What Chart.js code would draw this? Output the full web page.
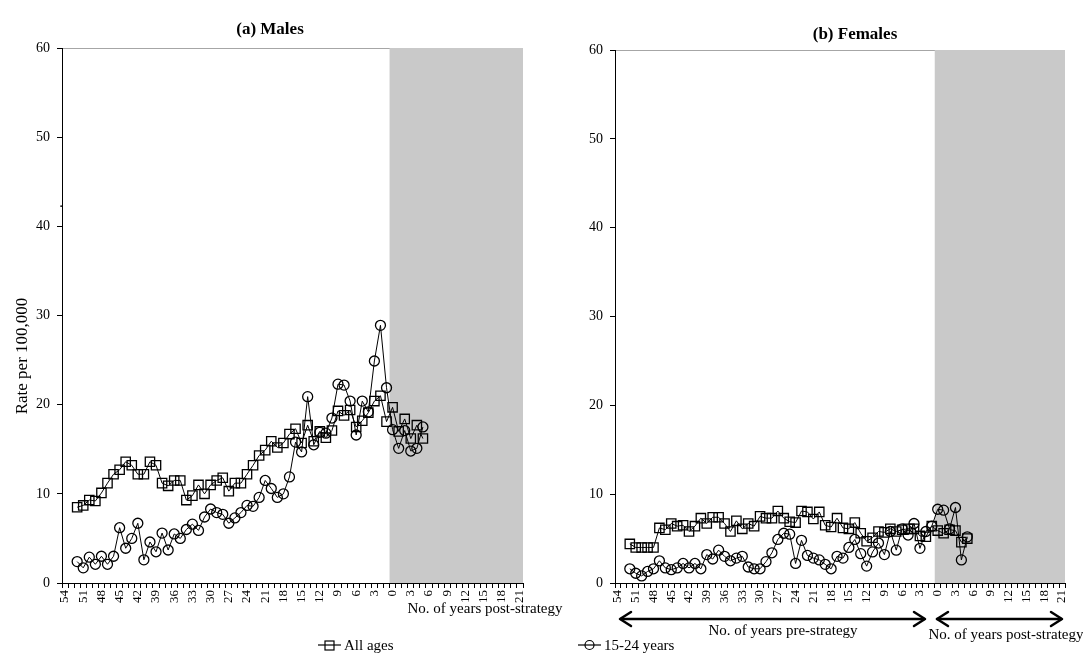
<!DOCTYPE html>
<html>
<head>
<meta charset="utf-8">
<script src="https://cdn.jsdelivr.net/npm/chart.js@4.4.1/dist/chart.umd.min.js"></script>
<style>
  body { margin: 0; background: #fff; font-family: "Liberation Serif", "Times New Roman", serif; }
  #wrap { position: relative; width: 1083px; height: 669px; overflow: hidden; }
  canvas { position: absolute; top: 0; }
  .txt { position: absolute; color: #000; white-space: nowrap; transform: translate(-50%, -50%); line-height: 1; }
</style>
</head>
<body>
<div id="wrap">
  <canvas id="males" width="545" height="669" style="left:0"></canvas>
  <canvas id="females" width="538" height="669" style="left:545px"></canvas>

  <div class="txt" style="left:270px; top:28px; font-size:17px; font-weight:bold">(a) Males</div>
  <div class="txt" style="left:855px; top:33px; font-size:17px; font-weight:bold">(b) Females</div>
  <div class="txt" style="left:21px; top:356px; font-size:17px; transform: translate(-50%, -50%) rotate(-90deg)">Rate per 100,000</div>
  <div class="txt" style="left:61px; top:202px; font-size:15px">.</div>

  <div class="txt" style="left:485px; top:608px; font-size:15px">No. of years post-strategy</div>
  <div class="txt" style="left:783px; top:630px; font-size:15px">No. of years pre-strategy</div>
  <div class="txt" style="left:1006px; top:634px; font-size:15px">No. of years post-strategy</div>

  <svg style="position:absolute; left:0; top:0" width="1083" height="669">
    <g stroke="#000" stroke-width="2.5" fill="none" stroke-linecap="round" stroke-linejoin="round">
      <line x1="621" y1="619" x2="924" y2="619"/>
      <polyline points="631,612 620,619 631,626"/>
      <polyline points="914,612 925,619 914,626"/>
      <line x1="937" y1="619" x2="1061" y2="619"/>
      <polyline points="948,612 937,619 948,626"/>
      <polyline points="1051,612 1062,619 1051,626"/>
    </g>
    <g stroke="#000" stroke-width="1.2" fill="none">
      <line x1="318" y1="645" x2="341" y2="645"/>
      <rect x="325" y="641" width="9" height="9"/>
      <line x1="578" y1="645" x2="601" y2="645"/>
      <circle cx="589.5" cy="645" r="4.5"/>
    </g>
  </svg>
  <div class="txt" style="left:344px; top:645px; font-size:15px; transform: translate(0, -50%)">All ages</div>
  <div class="txt" style="left:604px; top:645px; font-size:15px; transform: translate(0, -50%)">15-24 years</div>
</div>

<script>
// ─────────────────────────────────────────
// DATA
// ─────────────────────────────────────────

// years before the strategy (54 .. 1), then years after it (0 .. 21)
const preYears  = ["54","53","52","51","50","49","48","47","46","45","44","43","42","41","40","39","38","37",
                   "36","35","34","33","32","31","30","29","28","27","26","25","24","23","22","21","20","19",
                   "18","17","16","15","14","13","12","11","10","9","8","7","6","5","4","3","2","1"];
const postYears = ["0","1","2","3","4","5","6","7","8","9","10","11","12","13","14","15","16","17","18","19","20","21"];
const categories = preYears.concat(postYears);

// no data for pre-strategy years 54 and 53
const noData = [null, null];

// pre-strategy values, years 52 .. 1
const malesAllPre = [8.5, 8.7, 9.3, 9.2, 10.1, 11.2, 12.2, 12.7, 13.6, 13.2, 12.2, 12.2, 13.6, 13.2, 11.2, 10.9,
                     11.5, 11.5, 9.3, 9.8, 11.0, 10.0, 11.0, 11.5, 11.8, 10.3, 11.2, 11.2, 12.2, 13.2, 14.3, 14.9,
                     15.9, 15.2, 15.7, 16.7, 17.3, 15.7, 17.7, 15.9, 17.0, 16.3, 17.1, 19.3, 18.8, 19.4, 17.5, 18.2,
                     19.1, 20.4, 21.0, 18.1];
const malesYouthPre = [2.4, 1.7, 2.9, 2.1, 3.0, 2.1, 3.0, 6.2, 3.9, 5.0, 6.7, 2.6, 4.6, 3.5, 5.6, 3.7,
                       5.5, 5.0, 6.0, 6.6, 5.9, 7.4, 8.3, 7.9, 7.7, 6.7, 7.3, 7.9, 8.7, 8.6, 9.6, 11.5,
                       10.6, 9.6, 10.0, 11.9, 15.8, 14.7, 20.9, 15.5, 16.9, 16.8, 18.5, 22.3, 22.2, 20.4, 16.6, 20.4,
                       19.2, 24.9, 28.9, 21.9];
const femalesAllPre = [4.4, 4.0, 4.0, 4.0, 4.0, 6.2, 6.0, 6.7, 6.4, 6.5, 5.8, 6.4, 7.3, 6.7, 7.4, 7.4,
                       6.7, 5.8, 7.0, 6.1, 6.7, 6.4, 7.5, 7.3, 7.3, 8.1, 7.3, 6.9, 6.8, 8.1, 8.0, 7.2,
                       8.0, 6.5, 6.3, 7.3, 6.2, 6.1, 6.8, 5.6, 4.7, 5.1, 5.8, 5.7, 6.1, 5.8, 6.0, 6.1,
                       6.1, 5.3, 5.2, 6.4];
const femalesYouthPre = [1.6, 1.1, 0.8, 1.3, 1.6, 2.5, 1.7, 1.5, 1.7, 2.2, 1.7, 2.2, 1.6, 3.2, 2.7, 3.7,
                         3.0, 2.5, 2.8, 3.0, 1.8, 1.6, 1.6, 2.4, 3.4, 4.9, 5.6, 5.5, 2.2, 4.8, 3.1, 2.8,
                         2.6, 2.1, 1.6, 3.0, 2.8, 4.0, 4.9, 3.3, 1.9, 3.5, 4.5, 3.2, 5.8, 3.7, 6.1, 5.4,
                         6.7, 3.9, 5.8, 6.4];

// post-strategy values, years 0 .. 5
const malesAllPost     = [19.7, 17.0, 18.4, 16.2, 17.7, 16.2];
const malesYouthPost   = [17.2, 15.1, 17.1, 14.8, 15.1, 17.5];
const femalesAllPost   = [5.9, 5.6, 6.0, 5.9, 4.6, 5.0];
const femalesYouthPost = [8.3, 8.2, 6.1, 8.5, 2.6, 5.2];

const yTicks = [0, 10, 20, 30, 40, 50, 60];

// ─────────────────────────────────────────
// GREY POST-STRATEGY BAND
// ─────────────────────────────────────────

const postShade = {
  id: "postShade",
  beforeDraw(chart) {
    const { ctx, chartArea: a, scales: { x } } = chart;
    const step  = x.getPixelForValue(1) - x.getPixelForValue(0);
    const start = x.getPixelForValue(preYears.length) - step / 2;
    ctx.save();
    ctx.strokeStyle = "#a6a6a6";
    ctx.lineWidth = 1;
    ctx.beginPath();
    ctx.moveTo(a.left, a.top + 0.5);
    ctx.lineTo(a.right, a.top + 0.5);
    ctx.stroke();
    ctx.fillStyle = "#c9c9c9";
    ctx.fillRect(start, a.top, a.right - start, a.bottom - a.top);
    ctx.restore();
  }
};

// ─────────────────────────────────────────
// PANELS
// ─────────────────────────────────────────

function makePanel(id, allAges, youth, yWidth, pad) {
  const serif = "'Liberation Serif', 'Times New Roman', serif";
  new Chart(document.getElementById(id), {
    type: "line",
    data: {
      labels: categories,
      datasets: [{
        label: "All ages",
        data: allAges,
        borderColor: "#000",
        borderWidth: 1,
        pointStyle: "rect",
        pointRadius: 6.6,
        pointBorderWidth: 1.3,
        pointBorderColor: "#000",
        pointBackgroundColor: "rgba(0,0,0,0)",
        tension: 0
      }, {
        label: "15-24 years",
        data: youth,
        borderColor: "#000",
        borderWidth: 1,
        pointStyle: "circle",
        pointRadius: 5,
        pointBorderWidth: 1.3,
        pointBorderColor: "#000",
        pointBackgroundColor: "rgba(0,0,0,0)",
        tension: 0
      }]
    },
    options: {
      responsive: false,
      animation: false,
      devicePixelRatio: 1,
      layout: { padding: pad },
      plugins: { legend: { display: false }, tooltip: { enabled: false } },
      scales: {
        x: {
          type: "category",
          offset: true,
          grid: { drawOnChartArea: false, drawTicks: true, tickLength: 5, color: "#000", offset: true },
          border: { color: "#000", width: 1 },
          ticks: {
            autoSkip: false, minRotation: 90, maxRotation: 90, padding: 2,
            color: "#000", font: { family: serif, size: 13 },
            callback: function (v) {
              const lab = this.getLabelForValue(v);
              return Number(lab) % 3 === 0 ? lab : "";
            }
          },
          afterFit(s) { s.height = 86; }
        },
        y: {
          min: 0, max: 60,
          grid: { drawOnChartArea: false, drawTicks: true, tickLength: 5, color: "#000" },
          border: { color: "#000", width: 1 },
          ticks: { stepSize: 10, padding: 7, color: "#000", font: { family: serif, size: 14 } },
          afterBuildTicks(s) { s.ticks = yTicks.map(v => ({ value: v })); },
          afterFit(s) { s.width = yWidth; }
        }
      }
    },
    plugins: [postShade]
  });
}

makePanel("males",
  noData.concat(malesAllPre, malesAllPost),
  noData.concat(malesYouthPre, malesYouthPost),
  62, { top: 48, right: 22, bottom: 0, left: 0 });

makePanel("females",
  noData.concat(femalesAllPre, femalesAllPost),
  noData.concat(femalesYouthPre, femalesYouthPost),
  70, { top: 50, right: 18, bottom: 0, left: 0 });
</script>
</body>
</html>
